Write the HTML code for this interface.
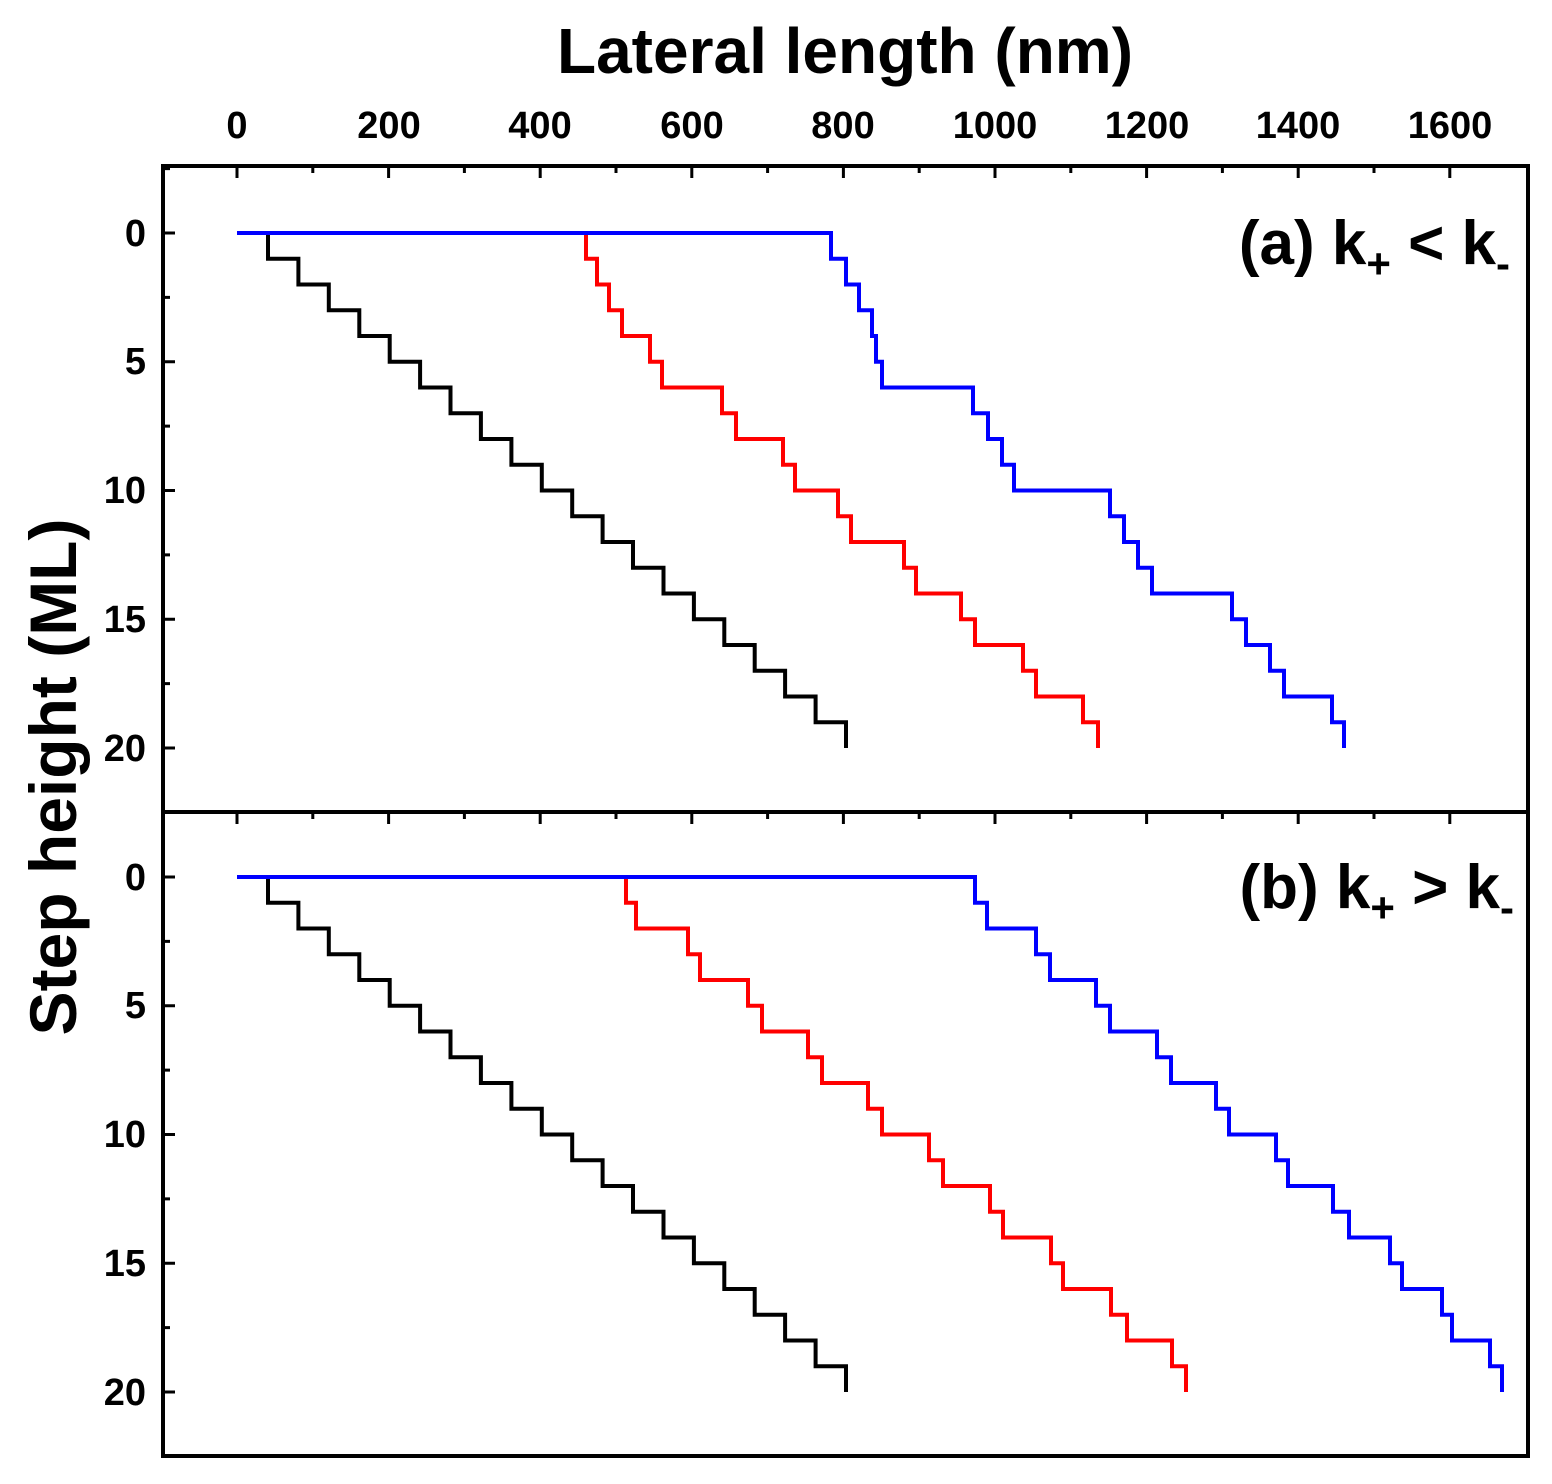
<!DOCTYPE html>
<html><head><meta charset="utf-8"><style>body{margin:0;background:#fff}svg{display:block}text{font-family:"Liberation Sans",Arial,sans-serif;font-weight:bold;fill:#000}</style></head>
<body>
<svg width="1552" height="1484" viewBox="0 0 1552 1484" xmlns="http://www.w3.org/2000/svg">
<text x="845" y="73" font-size="64" text-anchor="middle">Lateral length (nm)</text>
<text transform="translate(76,777) rotate(-90)" font-size="66" text-anchor="middle">Step height (ML)</text>
<g font-size="38" text-anchor="middle">
<text x="237" y="138">0</text><text x="389" y="138">200</text><text x="540" y="138">400</text><text x="692" y="138">600</text><text x="843" y="138">800</text><text x="995" y="138">1000</text><text x="1147" y="138">1200</text><text x="1298" y="138">1400</text><text x="1450" y="138">1600</text>
</g>
<g font-size="38" text-anchor="end">
<text x="146" y="246">0</text><text x="146" y="374">5</text><text x="146" y="503">10</text><text x="146" y="632">15</text><text x="146" y="761">20</text>
<text x="146" y="890">0</text><text x="146" y="1018">5</text><text x="146" y="1147">10</text><text x="146" y="1276">15</text><text x="146" y="1405">20</text>
</g>
<g font-size="62" text-anchor="end">
<text x="1510" y="264">(a) k<tspan font-size="42" dy="14">+</tspan><tspan dy="-14"> &lt; k</tspan><tspan font-size="42" dy="14">-</tspan></text>
<text x="1514" y="908">(b) k<tspan font-size="42" dy="14">+</tspan><tspan dy="-14"> &gt; k</tspan><tspan font-size="42" dy="14">-</tspan></text>
</g>
<g fill="none" stroke-width="4">
<path stroke="#000" d="M237,233H268v25.75H298.4v25.75H328.8v25.75H359.3v25.75H389.7v25.75H420.1v25.75H450.5v25.75H480.9v25.75H511.4v25.75H541.8v25.75H572.2v25.75H602.6v25.75H633v25.75H663.5v25.75H693.9v25.75H724.3v25.75H754.7v25.75H785.1v25.75H815.6v25.75H846v25.75"/>
<path stroke="#f00" d="M237,233H586v25.75H597v25.75H609v25.75H622v25.75H650v25.75H662v25.75H722v25.75H736v25.75H783v25.75H795v25.75H838v25.75H851v25.75H904v25.75H916v25.75H961v25.75H975v25.75H1023v25.75H1036v25.75H1083v25.75H1098v25.75"/>
<path stroke="#00f" d="M237,233H831v25.75H846v25.75H859v25.75H872v25.75H876v25.75H882v25.75H973v25.75H988v25.75H1002v25.75H1014v25.75H1110v25.75H1124v25.75H1138v25.75H1152v25.75H1232v25.75H1246v25.75H1270v25.75H1284v25.75H1332v25.75H1344v25.75"/>
<path stroke="#000" d="M237,877H268v25.75H298.4v25.75H328.8v25.75H359.3v25.75H389.7v25.75H420.1v25.75H450.5v25.75H480.9v25.75H511.4v25.75H541.8v25.75H572.2v25.75H602.6v25.75H633v25.75H663.5v25.75H693.9v25.75H724.3v25.75H754.7v25.75H785.1v25.75H815.6v25.75H846v25.75"/>
<path stroke="#f00" d="M237,877H626v25.75H636v25.75H688v25.75H700v25.75H748v25.75H762v25.75H808v25.75H822v25.75H868v25.75H882v25.75H929v25.75H943v25.75H990v25.75H1003v25.75H1051v25.75H1063v25.75H1111v25.75H1127v25.75H1172v25.75H1186v25.75"/>
<path stroke="#00f" d="M237,877H975v25.75H987v25.75H1036v25.75H1050v25.75H1096v25.75H1110v25.75H1157v25.75H1171v25.75H1216v25.75H1229v25.75H1276v25.75H1288v25.75H1333v25.75H1349v25.75H1390v25.75H1402v25.75H1442v25.75H1452v25.75H1490v25.75H1502v25.75"/>
</g>
<g stroke="#000" stroke-width="4" fill="none">
<rect x="163" y="166" width="1365" height="1290"/>
<line x1="163" y1="812" x2="1528" y2="812"/>
<path stroke-width="3" d="M237,166v12M312.8,166v7M388.6,166v12M464.4,166v7M540.2,166v12M616,166v7M691.8,166v12M767.6,166v7M843.4,166v12M919.2,166v7M995,166v12M1070.8,166v7M1146.6,166v12M1222.4,166v7M1298.2,166v12M1374,166v7M1449.8,166v12
M237,812v12M312.8,812v7M388.6,812v12M464.4,812v7M540.2,812v12M616,812v7M691.8,812v12M767.6,812v7M843.4,812v12M919.2,812v7M995,812v12M1070.8,812v7M1146.6,812v12M1222.4,812v7M1298.2,812v12M1374,812v7M1449.8,812v12
M163,168.6h7M163,233h12M163,297.4h7M163,361.8h12M163,426.1h7M163,490.5h12M163,554.9h7M163,619.3h12M163,683.6h7M163,748h12M163,780h0
M163,877h12M163,941.4h7M163,1005.8h12M163,1070.1h7M163,1134.5h12M163,1198.9h7M163,1263.3h12M163,1327.6h7M163,1392h12"/>
</g>
</svg>
</body></html>
